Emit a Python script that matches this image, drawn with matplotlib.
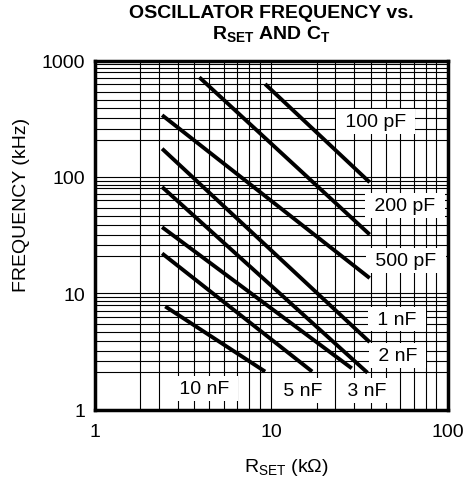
import matplotlib
matplotlib.use("Agg")
import matplotlib.pyplot as plt
import numpy as np
from matplotlib.ticker import NullLocator

plt.rcParams['font.family'] = ['Liberation Sans', 'DejaVu Sans']
plt.rcParams['mathtext.fontset'] = 'custom'
plt.rcParams['mathtext.rm'] = 'Liberation Sans'
plt.rcParams['mathtext.it'] = 'Liberation Sans:italic'
plt.rcParams['mathtext.bf'] = 'Liberation Sans:bold'

# ---- data ----
caps = ["100 pF", "200 pF", "500 pF", "1 nF", "2 nF", "3 nF", "5 nF", "10 nF"]
r_start = [9.2, 3.9, 2.4, 2.4, 2.4, 2.4, 2.4, 2.5]      # kOhm
r_end = [36.0, 36.0, 36.0, 36.0, 35.0, 28.5, 17.0, 9.2]  # kOhm
f_start = [630, 720, 340, 175, 82, 37, 22, 7.7]          # kHz
f_end = [90, 32, 13.5, 3.8, 2.07, 2.26, 2.12, 2.12]      # kHz

x_ticks = [1, 10, 100]
x_tick_labels = ["1", "10", "100"]
y_ticks = [1, 10, 100, 1000]
y_tick_labels = ["1", "10", "100", "1000"]

# ---- layout / style ----
label_pos = [(39, 300), (57, 57), (57.8, 19), (51.4, 6.0), (51.7, 2.92),
             (34.5, 1.46), (15.0, 1.46), (4.15, 1.52)]
x_grid_frac = [1.8, 2.3, 2.95, 3.65, 4.45, 5.35, 6.4, 7.5, 8.6]
y_grid_frac = [2.1, 2.6, 3.2, 3.9, 4.6, 5.4, 6.3, 7.1, 8.0, 8.6, 9.3]

W, H = 464, 481
fig = plt.figure(figsize=(W / 100, H / 100), dpi=100)
L, R, T, B = 95, 448, 61.7, 410.5
ax = fig.add_axes([L / W, 1 - B / H, (R - L) / W, (B - T) / H])
ax.set_xscale('log')
ax.set_yscale('log')
ax.set_xlim(1, 100)
ax.set_ylim(1, 1000)

# grid
for dec in [1, 10]:
    for g in [1] + x_grid_frac:
        v = g * dec
        if 1 < v < 100:
            ax.axvline(v, color='black', lw=0.8, zorder=1)
for dec in [1, 10, 100]:
    for g in [1] + y_grid_frac:
        v = g * dec
        if 1 < v < 1000:
            ax.axhline(v, color='black', lw=0.8, zorder=1)

# curves
for r0, r1, f0, f1 in zip(r_start, r_end, f_start, f_end):
    ax.plot([r0, r1], [f0, f1], color='black', lw=2.8,
            solid_capstyle='butt', zorder=3)

# labels
for name, (lx, ly) in zip(caps, label_pos):
    ax.text(lx, ly, " " + name + " ", ha='center', va='center', fontsize=14,
            bbox=dict(boxstyle='square,pad=0.2', fc='white', ec='none'),
            zorder=2)

ax.set_xticks(x_ticks, labels=x_tick_labels)
ax.set_yticks(y_ticks, labels=y_tick_labels)
ax.xaxis.set_minor_locator(NullLocator())
ax.yaxis.set_minor_locator(NullLocator())
ax.tick_params(length=0, labelsize=14)
ax.tick_params(axis='x', pad=10)
ax.tick_params(axis='y', pad=7)
for s in ax.spines.values():
    s.set_linewidth(2.5)
    s.set_zorder(5)

cx = (L + R) / 2 / W
fig.text(cx, 1 - 18 / H, "OSCILLATOR FREQUENCY vs.", ha='center',
         va='baseline', fontsize=14, fontweight='bold')
fig.text(cx, 1 - 39 / H, r"$\mathbf{R_{SET}}$ AND $\mathbf{C_{T}}$",
         ha='center', va='baseline', fontsize=14, fontweight='bold')
fig.text(22 / W, 1 - 205 / H, "FREQUENCY (kHz)", rotation=90,
         ha='center', va='center', fontsize=14)
fig.text(286 / W, 1 - 472 / H, r"R$_{\mathrm{SET}}$ (kΩ)", ha='center',
         va='baseline', fontsize=14)

fig.savefig("out.png", dpi=100)
